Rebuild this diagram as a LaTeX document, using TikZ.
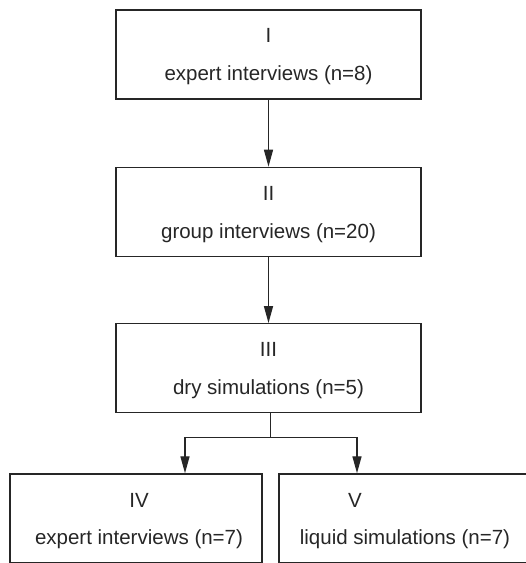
\documentclass[tikz,border=0pt]{standalone}
\usepackage{fontspec}
\setmainfont{Liberation Sans}
\usetikzlibrary{arrows.meta,positioning}

\begin{document}
\begin{tikzpicture}[x=1pt, y=1pt, >={Triangle[length=17pt,width=9pt]}, line width=1.4pt, draw=black!85, node distance=67pt]
\tikzstyle{stage}=[draw=black!85, line width=1.4pt, minimum width=305pt, minimum height=89pt, inner sep=0pt]
\tikzstyle{small stage}=[stage, minimum width=252pt]
\tikzstyle{txt}=[anchor=base, inner sep=0pt, text=black!85, font=\fontsize{20.5}{24}\selectfont]
\useasboundingbox (0,0) rectangle (526,563);
\clip (0,0) rectangle (526,563);
\node[stage]        (I)   at (268.5,508.5)    {};
\node[stage]        (II)  [below=of I]        {};
\node[stage]        (III) [below=66pt of II]  {};
\node[small stage]  (IV)  at (136,44.5)       {};
\node[small stage]  (V)   at (405,44.5)       {};
\node[txt] (tI)   at ([yshift=11.5pt]I.center)   {I};
\node[txt] (dI)   at ([yshift=-26.5pt]I.center)  {expert interviews (n=8)};
\node[txt] (tII)  at ([yshift=11.5pt]II.center)  {II};
\node[txt] (dII)  at ([yshift=-26.5pt]II.center) {group interviews (n=20)};
\node[txt] (tIII) at ([yshift=11.5pt]III.center) {III};
\node[txt] (dIII) at ([yshift=-26.5pt]III.center) {dry simulations (n=5)};
\node[txt] (tIV)  at ([xshift=3pt,yshift=11.5pt]IV.center)  {IV};
\node[txt] (dIV)  at ([xshift=3pt,yshift=-26.5pt]IV.center) {expert interviews (n=7)};
\node[txt] (tV)   at ([xshift=-50pt,yshift=11.5pt]V.center) {V};
\node[txt] (dV)   at ([yshift=-26.5pt]V.center)  {liquid simulations (n=7)};
\draw[->] (I) -- (II);
\draw[->] (II) -- (III);
\draw ([xshift=2pt]III.south) -- ++(0,-24) coordinate (split);
\draw[->] (split) -| ([xshift=49pt]IV.north);
\draw[->] (split) -| ([xshift=-48pt]V.north);
\end{tikzpicture}
\end{document}
